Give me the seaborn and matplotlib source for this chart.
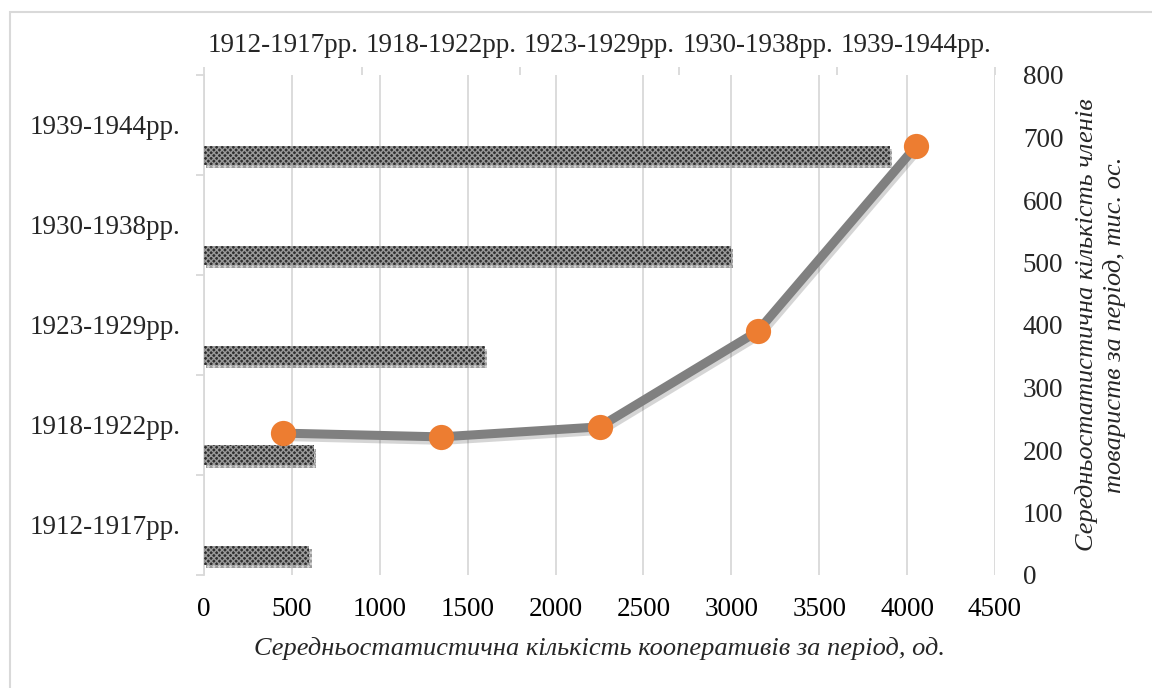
import matplotlib
matplotlib.use('Agg')
import matplotlib.pyplot as plt
import seaborn as sns
import numpy as np
from matplotlib import patheffects as pe
from matplotlib.patches import Rectangle

periods = ["1912-1917рр.", "1918-1922рр.", "1923-1929рр.", "1930-1938рр.", "1939-1944рр."]
cooperatives = [600, 625, 1600, 3000, 3900]
members = [227, 221, 237, 390, 686]
x_ticks = list(range(0, 4501, 500))
y2_ticks = list(range(0, 801, 100))

sns.set_theme(style='white')
plt.rcParams['font.family'] = ['Liberation Serif', 'DejaVu Serif']
plt.rcParams['hatch.linewidth'] = 1.0

FS = 19.5
LFS = 19
GRID = '#d9d9d9'

fig = plt.figure(figsize=(11.52, 6.88), dpi=100)
fig.patch.set_facecolor('white')
pos = [204 / 1152, 1 - 575 / 688, (995 - 204) / 1152, (575 - 75) / 688]
ax = fig.add_axes(pos)

order = periods[::-1]
sns.barplot(x=cooperatives, y=periods, order=order, orient='h', width=0.19,
            color='#303030', ax=ax, zorder=3)
for p in ax.patches:
    p.set_y(p.get_y() + 0.3)
    p.set_hatch('xxxxxx')
    p.set_edgecolor('#9a9a9a')
    p.set_linewidth(0)
    p.set_path_effects([pe.SimplePatchShadow(offset=(1.5, -2.5), alpha=0.18), pe.Normal()])

ax.set_xlim(0, 4500)
ax.set_ylim(4.5, -0.5)
ax.set_xticks(x_ticks)
ax.set_xticklabels([str(v) for v in x_ticks], fontsize=FS)
ax.tick_params(axis='x', length=0, pad=16, colors='black')
ax.grid(axis='x', color=GRID, linewidth=1.3, zorder=0)
ax.set_axisbelow(True)
ax.set_yticks(np.arange(-0.5, len(periods), 1.0))
ax.set_yticklabels([])
ax.set_yticks(np.arange(len(periods)), minor=True)
ax.set_yticklabels(order, minor=True, fontsize=FS)
ax.tick_params(axis='y', which='major', length=6, width=1.3, color=GRID, left=True)
ax.tick_params(axis='y', which='minor', length=0, pad=17, left=True)
for s in ['top', 'right', 'bottom']:
    ax.spines[s].set_visible(False)
ax.spines['left'].set_color(GRID)
ax.spines['left'].set_linewidth(1.3)
ax.set_xlabel('Середньостатистична кількість кооперативів за період, од.',
              fontsize=LFS, style='italic', labelpad=11)
ax.set_ylabel('')

ax2 = fig.add_axes(pos)
ax2.patch.set_visible(False)
sns.lineplot(x=periods, y=members, sort=False, ax=ax2, color='#808080', linewidth=6.5,
             path_effects=[pe.SimpleLineShadow(offset=(1.5, -2.5), alpha=0.18), pe.Normal()])
sns.scatterplot(x=periods, y=members, ax=ax2, color='#ED7D31', s=330, linewidth=0, zorder=5)
ax2.set_xlim(-0.5, len(periods) - 0.5)
ax2.set_ylim(0, 800)
ax2.xaxis.tick_top()
ax2.yaxis.tick_right()
ax2.yaxis.set_label_position('right')
ax2.set_xticks(np.arange(-0.5, len(periods), 1.0))
ax2.set_xticklabels([])
ax2.set_xticks(np.arange(len(periods)), minor=True)
ax2.set_xticklabels(periods, minor=True, fontsize=FS)
ax2.tick_params(axis='x', which='major', length=6, width=1.3, color=GRID, top=True, bottom=False)
ax2.tick_params(axis='x', which='minor', length=0, pad=12.5, top=True, bottom=False)
ax2.set_yticks(y2_ticks)
ax2.set_yticklabels([str(v) for v in y2_ticks], fontsize=FS)
ax2.tick_params(axis='y', length=0, pad=20)
for s in ax2.spines.values():
    s.set_visible(False)
ax2.set_ylabel('Середньостатистична кількість членів\nтовариств за період, тис. ос.',
               fontsize=LFS, style='italic', labelpad=8, linespacing=1.3)
ax2.set_xlabel('')

fig.add_artist(Rectangle((10 / 1152, -0.02), 1.0, 1 - 12 / 688 + 0.02, transform=fig.transFigure,
                         fill=False, edgecolor=GRID, linewidth=1.5))

fig.savefig('out.png', dpi=100)
